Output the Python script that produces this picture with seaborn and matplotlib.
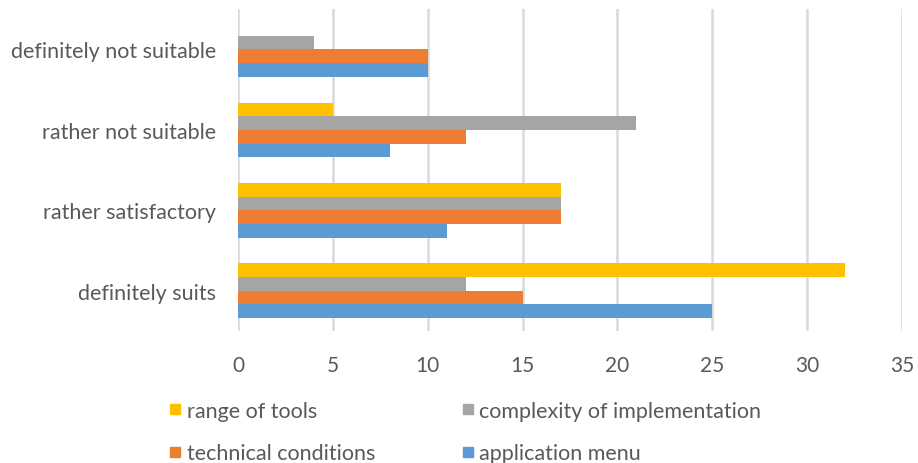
import matplotlib
matplotlib.use("Agg")
import matplotlib.pyplot as plt
import pandas as pd
import seaborn as sns
from matplotlib.lines import Line2D

categories = ["definitely not suitable", "rather not suitable", "rather satisfactory", "definitely suits"]
series = ["range of tools", "complexity of implementation", "technical conditions", "application menu"]
range_of_tools = [0, 5, 17, 32]
complexity = [4, 21, 17, 12]
technical = [10, 12, 17, 15]
app_menu = [10, 8, 11, 25]
x_ticks = [0, 5, 10, 15, 20, 25, 30, 35]

COLORS = ["#FFC000", "#A5A5A5", "#ED7D31", "#5B9BD5"]
TEXT = "#595959"

rows = []
for name, vals in zip(series, [range_of_tools, complexity, technical, app_menu]):
    for cat, v in zip(categories, vals):
        rows.append({"category": cat, "series": name, "value": v})
df = pd.DataFrame(rows)

sns.set_theme(style="white")
plt.rcParams["font.family"] = ["Lato", "DejaVu Sans"]

fig = plt.figure(figsize=(9.18, 4.64), dpi=100)
ax = fig.add_axes([0.2593, 0.2845, 0.7233, 0.6935])

sns.barplot(data=df, x="value", y="category", hue="series", order=categories,
            hue_order=series, palette=COLORS, orient="h", width=0.68,
            saturation=1, linewidth=0, ax=ax, legend=False)

ax.set_xlim(0, 35)
ax.set_ylim(3.5, -0.5)
ax.set_xticks(x_ticks)
ax.set_axisbelow(True)
ax.grid(axis="x", color="#D9D9D9", linewidth=1.8)
ax.grid(axis="y", visible=False)
for s in ax.spines.values():
    s.set_visible(False)
ax.set_xlabel("")
ax.set_ylabel("")
ax.tick_params(axis="x", length=0, pad=17, labelsize=15, labelcolor=TEXT)
ax.tick_params(axis="y", length=0, pad=16, labelsize=15.5, labelcolor=TEXT)

handles = [Line2D([], [], marker="s", linestyle="", markersize=7, color=c) for c in COLORS]
order = [0, 2, 1, 3]
fig.legend([handles[i] for i in order], [series[i] for i in order], ncol=2,
           loc="upper left", bbox_to_anchor=(0.167, 0.167), frameon=False,
           fontsize=15.5, labelcolor=TEXT, handletextpad=0.25, columnspacing=4.0,
           labelspacing=1.05, handlelength=0.6, borderaxespad=0.3)

fig.savefig("out.png", dpi=100)
